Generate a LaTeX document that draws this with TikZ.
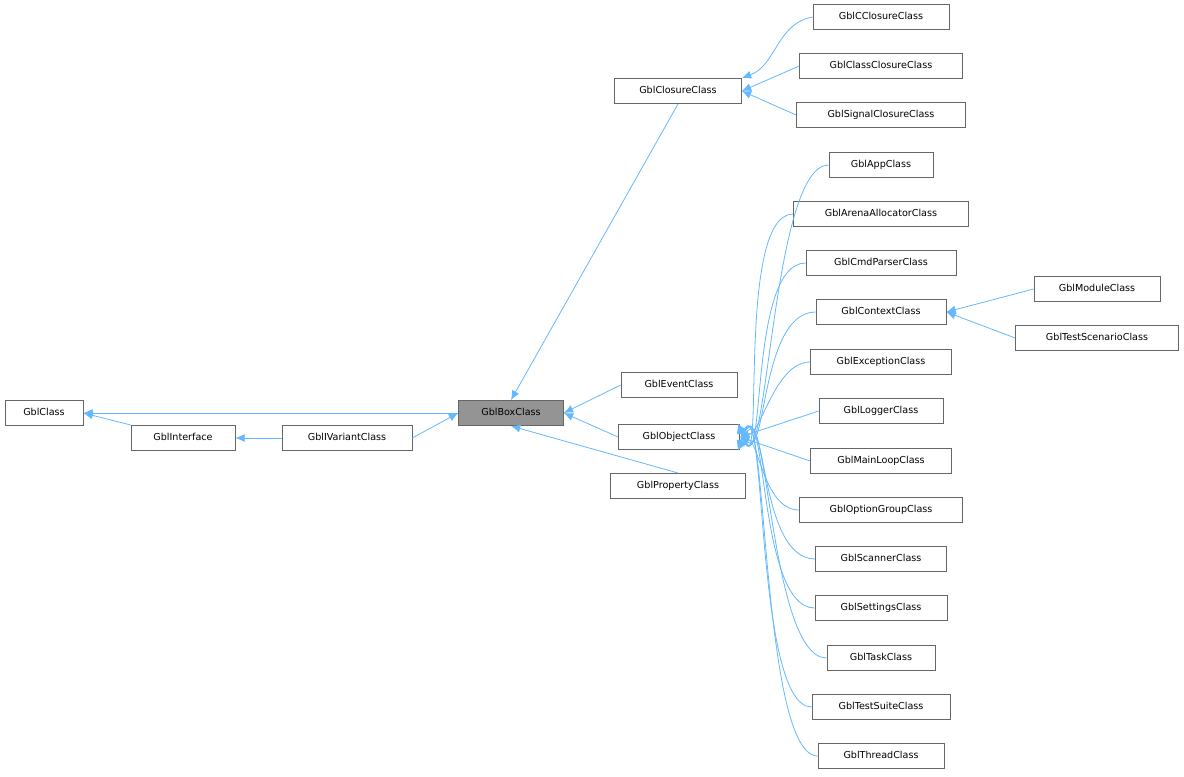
\documentclass[tikz,border=0pt]{standalone}
\usepackage{fontspec}
\setmainfont{DejaVu Sans}
\begin{document}
\begin{tikzpicture}[x=0.75pt,y=-0.75pt,
  box/.style={draw=black!60,fill=white,inner sep=0pt,minimum height=19pt,font=\fontsize{7.2}{8}\selectfont,line width=0.5pt},
  edge/.style={draw={rgb,255:red,99;green,184;blue,255},line width=0.6pt,-{Latex[length=7pt,width=6pt]}}]
\usetikzlibrary{arrows.meta}
\useasboundingbox (0,0) rectangle (1184,776);
\newcommand{\bx}[5]{\node[box,minimum width=#4*0.75pt,#5] (#1) at (#2,#3) {\strut #1};}
\bx{GblClass}{44}{413}{78}{}
\bx{GblInterface}{183}{438}{104}{}
\bx{GblIVariantClass}{347}{438}{130}{}
\bx{GblBoxClass}{511}{413}{105}{fill=black!42}
\bx{GblClosureClass}{678}{91}{127}{}
\bx{GblEventClass}{679}{385}{116}{}
\bx{GblObjectClass}{679}{437}{121}{}
\bx{GblPropertyClass}{678}{486}{135}{}
\bx{GblCClosureClass}{881}{17}{136}{}
\bx{GblClassClosureClass}{881}{66}{163}{}
\bx{GblSignalClosureClass}{881}{115}{169}{}
\bx{GblAppClass}{881}{165}{104}{}
\bx{GblArenaAllocatorClass}{881}{214}{175}{}
\bx{GblCmdParserClass}{881}{263}{150}{}
\bx{GblContextClass}{881}{312}{130}{}
\bx{GblExceptionClass}{881}{362}{141}{}
\bx{GblLoggerClass}{881}{411}{124}{}
\bx{GblMainLoopClass}{881}{461}{141}{}
\bx{GblOptionGroupClass}{881}{510}{163}{}
\bx{GblScannerClass}{881}{559}{131}{}
\bx{GblSettingsClass}{881}{608}{132}{}
\bx{GblTaskClass}{881}{658}{108}{}
\bx{GblTestSuiteClass}{881}{707}{138}{}
\bx{GblThreadClass}{881}{756}{126}{}
\bx{GblModuleClass}{1097}{289}{126}{}
\bx{GblTestScenarioClass}{1097}{338}{163}{}
\draw[edge] (GblInterface.north west) -- (GblClass.east);
\draw[edge] (GblBoxClass.west) -- (GblClass.east);
\draw[edge] (GblIVariantClass.west) -- (GblInterface.east);
\draw[edge] (GblIVariantClass.east) -- (GblBoxClass.west);
\draw[edge] (GblClosureClass.south) -- (GblBoxClass.north);
\draw[edge] (GblEventClass.west) -- (GblBoxClass.east);
\draw[edge] (GblObjectClass.west) -- (GblBoxClass.east);
\draw[edge] (GblPropertyClass.north) -- (GblBoxClass.south);
\draw[edge] (GblCClosureClass.west) to[out=190,in=20] (GblClosureClass.north east);
\draw[edge] (GblClassClosureClass.west) -- (GblClosureClass.east);
\draw[edge] (GblSignalClosureClass.west) -- (GblClosureClass.east);
\draw[edge] (GblModuleClass.west) -- (GblContextClass.east);
\draw[edge] (GblTestScenarioClass.west) -- (GblContextClass.east);
\coordinate (ou) at (738,424);
\coordinate (ol) at (738,450);
\foreach \n/\a in {GblAppClass/95,GblArenaAllocatorClass/90,GblCmdParserClass/80,GblContextClass/65}
  \draw[edge] (\n.west) .. controls +(-60,0) and +(30,\a) .. (ou);
\draw[edge] (GblExceptionClass.west) .. controls +(-40,0) and +(20,30) .. (ou);
\draw[edge] (GblLoggerClass.west) -- (GblObjectClass.east);
\draw[edge] (GblMainLoopClass.west) -- (GblObjectClass.east);
\draw[edge] (GblOptionGroupClass.west) .. controls +(-40,0) and +(20,-30) .. (ol);
\foreach \n/\a in {GblScannerClass/-70,GblSettingsClass/-85,GblTaskClass/-95,GblTestSuiteClass/-100,GblThreadClass/-110}
  \draw[edge] (\n.west) .. controls +(-60,0) and +(30,\a) .. (ol);
\end{tikzpicture}
\end{document}
